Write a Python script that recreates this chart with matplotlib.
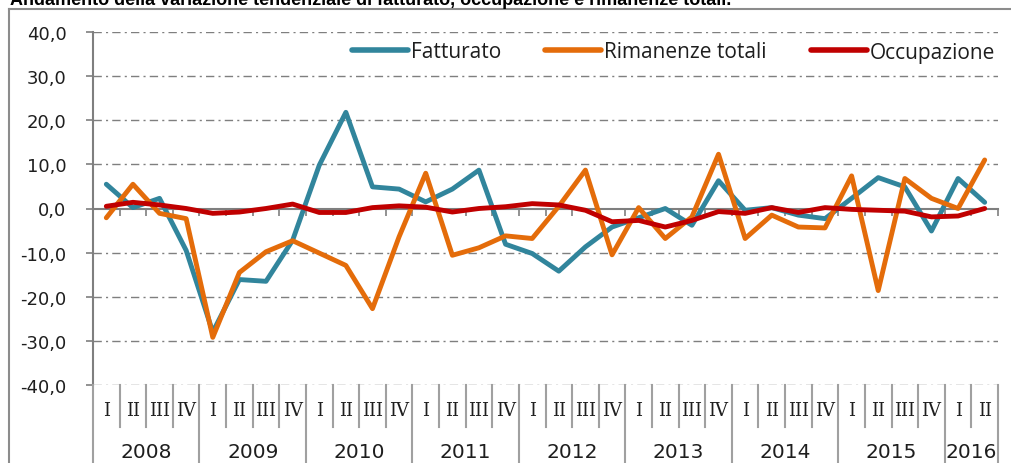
import matplotlib
matplotlib.use("Agg")
import matplotlib.pyplot as plt
from matplotlib.lines import Line2D
from matplotlib.ticker import FuncFormatter
import matplotlib.transforms as mtransforms

quarters = ['I', 'II', 'III', 'IV'] * 8 + ['I', 'II']
years = ['2008', '2009', '2010', '2011', '2012', '2013', '2014', '2015', '2016']
year_len = [4, 4, 4, 4, 4, 4, 4, 4, 2]

fatturato = [5.5, 0.2, 2.3, -9.5, -28.0, -16.1, -16.5, -7.2, 9.8, 21.8, 4.9, 4.4,
             1.5, 4.4, 8.7, -8.1, -10.2, -14.2, -8.7, -4.2, -2.1, 0.0, -3.8, 6.3,
             -0.4, 0.2, -1.5, -2.3, 2.3, 7.0, 4.9, -5.1, 6.8, 1.4]
rimanenze = [-2.1, 5.5, -1.1, -2.3, -29.2, -14.5, -9.8, -7.3, -10.1, -12.9, -22.7, -6.4,
             8.0, -10.6, -8.9, -6.2, -6.8, 0.5, 8.7, -10.5, 0.2, -6.8, -1.9, 12.3,
             -6.8, -1.5, -4.2, -4.4, 7.4, -18.6, 6.8, 2.3, 0.0, 11.0]
occupazione = [0.5, 1.4, 0.8, 0.0, -1.1, -0.8, 0.0, 1.0, -0.9, -0.9, 0.2, 0.6,
               0.3, -0.8, 0.0, 0.4, 1.1, 0.8, -0.4, -3.0, -2.7, -4.2, -2.7, -0.7,
               -1.1, 0.2, -0.9, 0.2, -0.2, -0.4, -0.6, -1.9, -1.7, 0.0]

series_names = ['Fatturato', 'Rimanenze totali', 'Occupazione']
colors = ['#31859C', '#E46C0A', '#C00000']

W, H = 1012, 464
fig = plt.figure(figsize=(W / 100, H / 100), dpi=100)
L, R, T, B = 93, 998, 33, 386
ax = fig.add_axes([L / W, 1 - B / H, (R - L) / W, (B - T) / H])

n = len(quarters)
x = list(range(n))
grid_col = '#7F7F7F'
txt_col = '#1E1E1E'

for vals, name, c in zip([fatturato, rimanenze, occupazione], series_names, colors):
    ax.plot(x, vals, color=c, lw=3.5, label=name, solid_joinstyle='round',
            solid_capstyle='round', zorder=3)

ax.set_xlim(-0.5, n - 0.5)
ax.set_ylim(-40, 40)
yt = list(range(-40, 41, 10))
ax.set_yticks(yt)
ax.yaxis.set_major_formatter(FuncFormatter(lambda v, p: f"{v:.1f}".replace('.', ',')))
for v in yt:
    if v != 0:
        ax.axhline(v, color=grid_col, lw=1.0, ls=(0, (6, 3, 1.5, 3)), zorder=1)

for s in ['top', 'right']:
    ax.spines[s].set_visible(False)
ax.spines['left'].set_color(grid_col)
ax.spines['left'].set_linewidth(1.5)
ax.spines['bottom'].set_position(('data', 0))
ax.spines['bottom'].set_color(grid_col)
ax.spines['bottom'].set_linewidth(1.5)
ax.spines['bottom'].set_zorder(2)
ax.set_xticks([i - 0.5 for i in range(n + 1)])
ax.set_xticklabels([])
ax.tick_params(axis='x', direction='out', length=5, width=1.2, color=grid_col)
ax.tick_params(axis='y', direction='out', length=5, width=1.2, color=grid_col,
               labelsize=13, pad=14)
for lab in ax.get_yticklabels():
    lab.set_fontfamily('DejaVu Sans')
    lab.set_color(txt_col)

# Category labels below
trans = mtransforms.blended_transform_factory(ax.transData, fig.transFigure)
qy = 1 - 411 / H
yy = 1 - 453 / H
for i, q in enumerate(quarters):
    ax.text(i, qy, q, transform=trans, ha='center', va='center', fontsize=13,
            family='DejaVu Serif', color=txt_col, clip_on=False)
start = 0
bounds = [0]
for y_lab, ln in zip(years, year_len):
    ax.text(start + (ln - 1) / 2, yy, y_lab, transform=trans, ha='center', va='center',
            fontsize=14.5, family='DejaVu Sans', color=txt_col, clip_on=False)
    start += ln
    bounds.append(start)
for k in range(n + 1):
    xb = k - 0.5
    if k in bounds:
        y0 = 0.0
    else:
        y0 = 1 - 428 / H
    fig.add_artist(Line2D([xb, xb], [1 - B / H, y0], transform=trans, color='#A0A0A0', lw=1.5))

# Outer frame
fig.add_artist(Line2D([9 / W, 9 / W], [0, 1 - 10 / H], color='#8C8C8C', lw=1.5))
fig.add_artist(Line2D([9 / W, 1.0], [1 - 10 / H, 1 - 10 / H], color='#8C8C8C', lw=1.5))

fig.text(10 / W, 1 - 5 / H,
         'Andamento della variazione tendenziale di fatturato, occupazione e rimanenze totali.',
         fontsize=13, fontweight='bold', family='Liberation Sans', va='baseline', ha='left')

leg = ax.legend(loc='center right', bbox_to_anchor=(0.997, 1 - (53 - T) / (B - T)), ncol=3,
                frameon=False, handlelength=2.7, handletextpad=0.15, columnspacing=2.1,
                prop={'family': 'Open Sans', 'size': 15}, borderaxespad=0, borderpad=0)
for t in leg.get_texts():
    t.set_color(txt_col)
for h in leg.get_lines():
    h.set_linewidth(4)

fig.savefig('out.png', dpi=100)
